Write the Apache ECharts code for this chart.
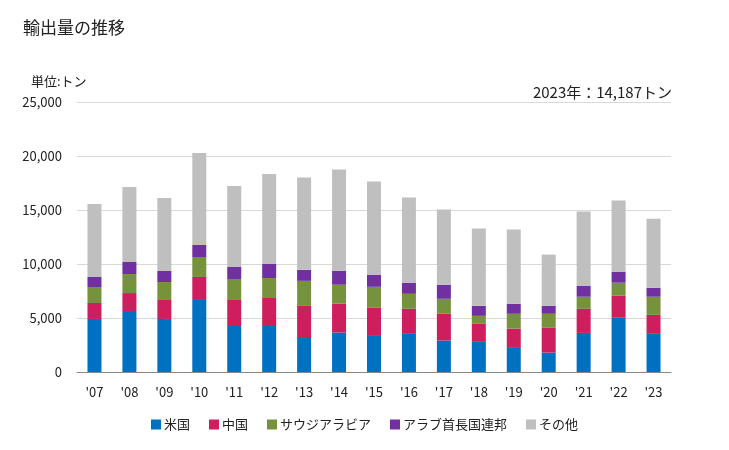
<!DOCTYPE html>
<html><head><meta charset="utf-8">
<script src="https://cdn.jsdelivr.net/npm/echarts@6/dist/echarts.min.js"></script>
<style>html,body{margin:0;padding:0;background:#fff}#c{width:729px;height:450px}</style>
</head><body><div id="c"></div>
<script>
const categories = ["'07","'08","'09","'10","'11","'12","'13","'14","'15","'16","'17","'18","'19","'20","'21","'22","'23"];
const usa    = [4910,5650,4910,6670,4260,4260,3150,3650,3340,3530,2910,2790,2230,1800,3620,5020,3530];
const china  = [1480,1660,1760,2130,2410,2590,2970,2670,2600,2320,2480,1670,1790,2290,2230,2040,1760];
const saudi  = [1480,1760,1660,1850,1940,1850,2320,1760,1950,1390,1390,740,1370,1300,1120,1210,1680];
const uae    = [930,1120,1020,1110,1110,1300,1020,1300,1120,1030,1300,930,930,740,1020,1020,830];
const others = [6760,6940,6760,8520,7500,8330,8550,9380,8640,7890,6970,7150,6870,4740,6870,6590,6387];
const seriesNames = ['米国','中国','サウジアラビア','アラブ首長国連邦','その他'];
const colors = ['#0070C0','#CE1E5E','#76923C','#7030A0','#BFBFBF'];
const font = "'Noto Sans CJK JP','Noto Sans',sans-serif";
const chart = echarts.init(document.getElementById('c'));
const data = [usa, china, saudi, uae, others];
chart.setOption({
  animation:false,
  textStyle:{fontFamily:font},
  title:[
    {text:'輸出量の推移',left:18,top:14,textStyle:{fontSize:17,fontWeight:'normal',color:'#222',fontFamily:font}},
    {text:'単位:トン',left:26,top:70,textStyle:{fontSize:13,fontWeight:'normal',color:'#222',fontFamily:font}},
    {text:'2023年：14,187トン',right:52,top:80,textStyle:{fontSize:15,fontWeight:'normal',color:'#222',fontFamily:font}}
  ],
  legend:{bottom:14,left:'center',itemWidth:10,itemHeight:10,itemGap:19,icon:'rect',
    textStyle:{fontSize:13,color:'#222',fontFamily:font,padding:[0,0,0,-2]},
    data:seriesNames},
  grid:{left:77,right:58,top:102,bottom:78},
  xAxis:{type:'category',data:categories,
    axisLine:{lineStyle:{color:'#888'}},axisTick:{show:false},
    axisLabel:{color:'#222',fontSize:13,margin:14,fontFamily:font}},
  yAxis:{type:'value',min:0,max:25000,interval:5000,
    axisLabel:{color:'#222',fontSize:13,margin:15,fontFamily:font,
      formatter:v=>v.toLocaleString('en-US')},
    splitLine:{lineStyle:{color:'#d9d9d9'}},axisLine:{show:false},axisTick:{show:false}},
  series:seriesNames.map((n,i)=>({name:n,type:'bar',stack:'t',barWidth:14,
    itemStyle:{color:colors[i]},data:data[i]}))
});
</script></body></html>
